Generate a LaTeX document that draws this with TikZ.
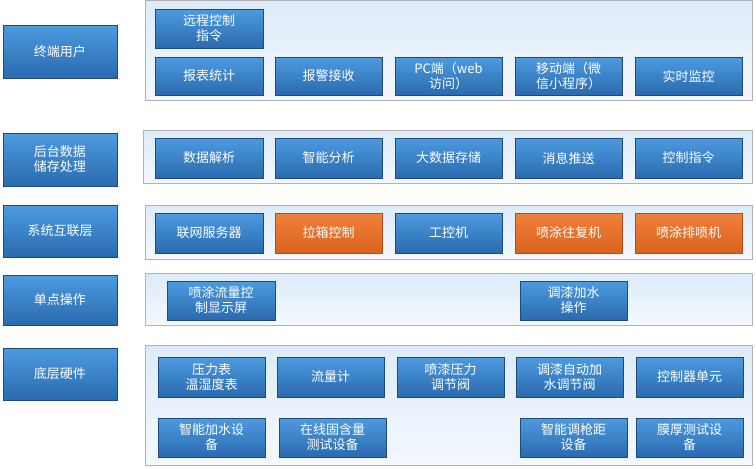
\documentclass[tikz,border=0pt]{standalone}
\usepackage{fontspec}
\setmainfont{Noto Sans CJK SC}
\definecolor{btop}{HTML}{4D9BE0}
\definecolor{bbot}{HTML}{2A6AAE}
\definecolor{otop}{HTML}{F0803A}
\definecolor{obot}{HTML}{D9621E}
\definecolor{ptop}{HTML}{DDEBFA}
\definecolor{pbot}{HTML}{F4F8FD}
\tikzset{x=1pt,y=-1pt,
 bx/.style={draw=bbot!70!black,top color=btop,bottom color=bbot,text=white,font=\fontsize{13}{15}\selectfont,align=center,inner sep=0pt},
 ob/.style={bx,draw=obot!80!black,top color=otop,bottom color=obot},
 pan/.style={draw=gray!60,top color=ptop,bottom color=pbot}}
\newcommand{\bb}[6][bx]{\node[#1,minimum width=#4-#2,minimum height=#5-#3] (n#2x#3) at ({(#2+#4)/2},{(#3+#5)/2}) {#6};}
\begin{document}
\begin{tikzpicture}
\useasboundingbox (0,0) rectangle (756,469);
\foreach \a/\b/\c/\d in {145/0/752/100,143/130/752/183,145/205/752/259,145/273/752/325,145/345/752/465}
 \path[pan] (\a,\b) rectangle (\c,\d);
\bb{3}{25}{117}{78}{终端用户}
\bb{3}{133}{117}{186}{后台数据\\储存处理}
\bb{3}{205}{117}{257}{系统互联层}
\bb{3}{275}{117}{325}{单点操作}
\bb{3}{348}{117}{400}{底层硬件}
\bb{155}{9}{263}{48}{远程控制\\指令}
\bb{155}{57}{263}{95}{报表统计}
\bb{275}{57}{382}{95}{报警接收}
\bb{395}{57}{502}{95}{PC端（web\\访问）}
\bb{515}{57}{622}{95}{移动端（微\\信小程序）}
\bb{635}{57}{742}{95}{实时监控}
\bb{155}{138}{263}{178}{数据解析}
\bb{275}{138}{382}{178}{智能分析}
\bb{395}{138}{502}{178}{大数据存储}
\bb{515}{138}{622}{178}{消息推送}
\bb{635}{138}{742}{178}{控制指令}
\bb{155}{213}{263}{253}{联网服务器}
\bb[ob]{275}{213}{382}{253}{拉箱控制}
\bb{395}{213}{502}{253}{工控机}
\bb[ob]{515}{213}{622}{253}{喷涂往复机}
\bb[ob]{635}{213}{742}{253}{喷涂排喷机}
\bb{167}{281}{275}{320}{喷涂流量控\\制显示屏}
\bb{520}{281}{627}{320}{调漆加水\\操作}
\bb{158}{357}{265}{397}{压力表\\温湿度表}
\bb{277}{357}{384}{397}{流量计}
\bb{397}{357}{504}{397}{喷漆压力\\调节阀}
\bb{516}{357}{623}{397}{调漆自动加\\水调节阀}
\bb{636}{357}{743}{397}{控制器单元}
\bb{158}{418}{265}{457}{智能加水设\\备}
\bb{279}{418}{386}{457}{在线固含量\\测试设备}
\bb{520}{418}{627}{457}{智能调枪距\\设备}
\bb{636}{418}{743}{457}{膜厚测试设\\备}
\end{tikzpicture}
\end{document}
